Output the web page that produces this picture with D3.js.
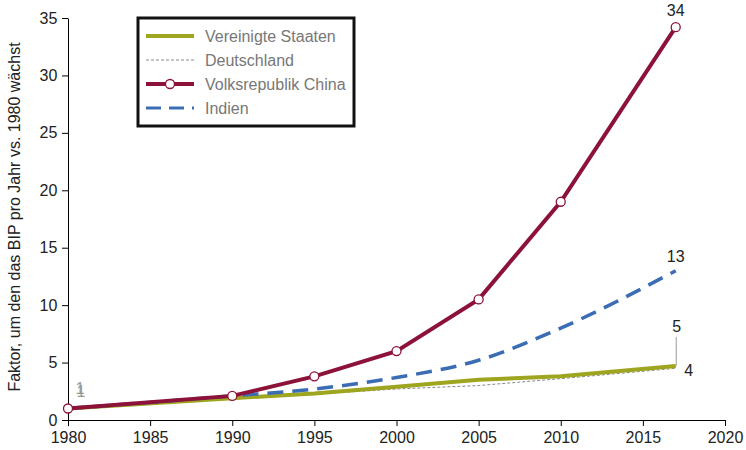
<!DOCTYPE html>
<html>
<head>
<meta charset="utf-8">
<script src="https://cdn.jsdelivr.net/npm/d3@7"></script>
<style>
  body { margin: 0; background: #fff; }
  svg { font-family: "Liberation Sans", Arial, sans-serif; }
  .axis text { font-size: 16px; fill: #222; }
  .axis path, .axis line { stroke: #000; }
</style>
</head>
<body>
<div id="chart"></div>
<script>
const years = [1980, 1990, 1995, 2000, 2005, 2010, 2017];
const usa = [1, 1.9, 2.3, 2.9, 3.5, 3.8, 4.7];
const germany = [1, 1.85, 2.25, 2.7, 3.0, 3.6, 4.5];
const china = [1, 2.1, 3.8, 6.0, 10.5, 19.0, 34.2];
const india = [1, 2.1, 2.7, 3.7, 5.2, 8.0, 13.0];
const xTicks = [1980, 1985, 1990, 1995, 2000, 2005, 2010, 2015, 2020];
const yTicks = [0, 5, 10, 15, 20, 25, 30, 35];
const seriesNames = ["Vereinigte Staaten", "Deutschland", "Volksrepublik China", "Indien"];

const width = 746;
const height = 450;
const margin = {top: 18, right: 21, bottom: 30, left: 68};

const svg = d3.select('#chart')
  .append('svg')
  .attr('width', width)
  .attr('height', height);

const x = d3.scaleLinear()
  .domain([1980, 2020])
  .range([margin.left, width - margin.right]);

const y = d3.scaleLinear()
  .domain([0, 35])
  .range([height - margin.bottom, margin.top]);

//Axes
svg.append('g')
  .attr('class', 'axis')
  .attr('transform', `translate(0, ${y(0)})`)
  .call(d3.axisBottom(x).tickValues(xTicks).tickFormat(d3.format('d')).tickSize(6).tickSizeOuter(0))
  .selectAll('text').attr('dy', '0.9em');

svg.append('g')
  .attr('class', 'axis')
  .attr('transform', `translate(${x(1980)}, 0)`)
  .call(d3.axisLeft(y).tickValues(yTicks).tickSize(6).tickSizeOuter(0))
  .selectAll('text').attr('dx', '-0.1em');

svg.append('text')
  .attr('transform', `translate(20, ${(y(0) + y(35)) / 2 - 2}) rotate(-90)`)
  .attr('text-anchor', 'middle')
  .style('font-size', '16px')
  .style('fill', '#222')
  .text('Faktor, um den das BIP pro Jahr vs. 1980 wächst');

const series = [
  {name: seriesNames[1], values: germany, color: '#888', width: 1, dash: '3,2', curve: d3.curveLinear},
  {name: seriesNames[0], values: usa, color: '#9ea51f', width: 4, dash: null, curve: d3.curveLinear},
  {name: seriesNames[3], values: india, color: '#3a6db3', width: 3.5, dash: '16,9', curve: d3.curveMonotoneX},
  {name: seriesNames[2], values: china, color: '#8d1239', width: 4, dash: null, curve: d3.curveLinear}
];

series.forEach(s => {
  const line = d3.line()
    .x((d, i) => x(years[i]))
    .y(d => y(d))
    .curve(s.curve);
  svg.append('path')
    .datum(s.values)
    .attr('fill', 'none')
    .attr('stroke', s.color)
    .attr('stroke-width', s.width)
    .attr('stroke-dasharray', s.dash)
    .attr('d', line);
});

//China markers
svg.append('g')
  .selectAll('circle')
  .data(china)
  .enter().append('circle')
  .attr('cx', (d, i) => x(years[i]))
  .attr('cy', d => y(d))
  .attr('r', 4.5)
  .attr('fill', '#fff')
  .attr('stroke', '#8d1239')
  .attr('stroke-width', 1.3);

//End labels
const last = years.length - 1;
const endLabel = (txt, xx, yy, color) => svg.append('text')
  .attr('x', xx).attr('y', yy)
  .attr('text-anchor', 'middle')
  .style('font-size', '16px')
  .style('fill', color)
  .text(txt);

endLabel(Math.round(china[last]), x(years[last]), y(china[last]) - 11, '#222');
endLabel(Math.round(india[last]), x(years[last]), y(india[last]) - 9, '#222');
endLabel(Math.round(usa[last]), x(years[last]) + 1, y(usa[last]) - 34, '#222');
endLabel(Math.floor(germany[last]), x(years[last]) + 13, y(germany[last]) + 8, '#222');
svg.append('line')
  .attr('x1', x(years[last]) + 0.5).attr('x2', x(years[last]) + 0.5)
  .attr('y1', y(usa[last]) - 29).attr('y2', y(usa[last]))
  .attr('stroke', '#999').attr('stroke-width', 1);

//Start labels
endLabel(usa[0], x(years[0]) + 12, y(usa[0]) - 15, '#999');
endLabel(germany[0], x(years[0]) + 13, y(germany[0]) - 12, '#999');

//Legend
const legend = svg.append('g').attr('transform', 'translate(138, 18)');
legend.append('rect')
  .attr('width', 216)
  .attr('height', 108)
  .attr('fill', '#fff')
  .attr('stroke', '#111')
  .attr('stroke-width', 3);

const legendItems = [series[1], series[0], series[3], series[2]];
legendItems.forEach((s, i) => {
  const ly = 18 + i * 24;
  legend.append('line')
    .attr('x1', 8).attr('x2', 56)
    .attr('y1', ly).attr('y2', ly)
    .attr('stroke', s.color)
    .attr('stroke-width', s.name === seriesNames[1] ? 1 : (s.name === seriesNames[3] ? 3 : 4))
    .attr('stroke-dasharray', s.name === seriesNames[3] ? '15,8' : s.dash);
  if (s.name === seriesNames[2]) {
    legend.append('circle')
      .attr('cx', 32).attr('cy', ly).attr('r', 4.5)
      .attr('fill', '#fff').attr('stroke', s.color).attr('stroke-width', 1.3);
  }
  legend.append('text')
    .attr('x', 67).attr('y', ly + 5.5)
    .style('font-size', '16px')
    .style('fill', '#777')
    .text(s.name);
});
</script>
</body>
</html>
